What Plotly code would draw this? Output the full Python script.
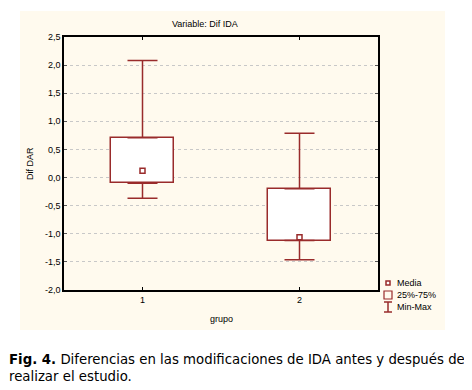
import plotly.graph_objects as go

# ---- data ----
groups = [1, 2]
group_labels = ["1", "2"]
q1 = [-0.10, -1.12]
q3 = [0.71, -0.20]
vmin = [-0.37, -1.46]
vmax = [2.08, 0.79]
mean = [0.12, -1.06]
ytick_vals = [-2.0, -1.5, -1.0, -0.5, 0.0, 0.5, 1.0, 1.5, 2.0, 2.5]
ytick_text = ["-2,0", "-1,5", "-1,0", "-0,5", "0,0", "0,5", "1,0", "1,5", "2,0", "2,5"]
legend_labels = ["Media", "25%-75%", "Min-Max"]

RED = "#992b2b"
OFF = 8  # page body margin
W, H = 472 - OFF, 390 - OFF
PL, PR, PT, PB = 64, 378, 37, 290  # plot area in screen pixels
L, T = PL - OFF, PT - OFF
R, B = W - (PR - OFF), H - (PB - OFF)
PW, PH = W - L - R, H - T - B


def px(x):
    return (x - OFF - L) / PW


def py(y):
    return (H - B - (y - OFF)) / PH


fig = go.Figure()

# boxes 25%-75%
fig.add_trace(go.Bar(
    x=groups, y=[b - a for a, b in zip(q1, q3)], base=q1, width=0.4,
    marker=dict(color="white", line=dict(color=RED, width=1.5)),
    showlegend=False, hoverinfo="skip"))

# upper whiskers
fig.add_trace(go.Scatter(
    x=groups, y=q3, mode="markers", marker=dict(size=1, color="rgba(0,0,0,0)"),
    error_y=dict(type="data", symmetric=False,
                 array=[m - a for m, a in zip(vmax, q3)], arrayminus=[0, 0],
                 color=RED, thickness=1.5, width=15),
    showlegend=False, hoverinfo="skip"))
# lower whiskers
fig.add_trace(go.Scatter(
    x=groups, y=q1, mode="markers", marker=dict(size=1, color="rgba(0,0,0,0)"),
    error_y=dict(type="data", symmetric=False,
                 array=[0, 0], arrayminus=[a - m for a, m in zip(q1, vmin)],
                 color=RED, thickness=1.5, width=15),
    showlegend=False, hoverinfo="skip"))
# means
fig.add_trace(go.Scatter(
    x=groups, y=mean, mode="markers",
    marker=dict(symbol="square", size=5, color="white", line=dict(color=RED, width=1.5)),
    showlegend=False, hoverinfo="skip"))

axis_font = dict(family="Liberation Sans, Arial", size=9, color="black")

fig.update_xaxes(range=[0.5, 2.5], tickvals=groups, ticktext=group_labels,
                 showline=True, linecolor="black", linewidth=1.5, mirror="allticks",
                 ticks="inside", ticklen=3, tickcolor="black", showgrid=False,
                 zeroline=False, tickfont=axis_font)
fig.update_yaxes(range=[-2.0, 2.5], tickvals=ytick_vals, ticktext=ytick_text,
                 showline=True, linecolor="black", linewidth=1.5, mirror="allticks",
                 ticks="inside", ticklen=3, tickcolor="#555", showgrid=True,
                 gridcolor="#c8c8c8", griddash="dot", gridwidth=1,
                 zeroline=False, tickfont=axis_font)

shapes = [
    # cream panel
    dict(type="rect", xref="paper", yref="paper", x0=px(20), x1=px(445), y0=py(330), y1=py(11),
         fillcolor="#fffaee", line=dict(width=0), layer="below"),
    # legend icons
    dict(type="rect", xref="paper", yref="paper", x0=px(386), x1=px(390), y0=py(285), y1=py(281),
         fillcolor="white", line=dict(color=RED, width=1.5)),
    dict(type="rect", xref="paper", yref="paper", x0=px(384), x1=px(392), y0=py(299), y1=py(291),
         fillcolor="rgba(0,0,0,0)", line=dict(color=RED, width=1.2)),
    dict(type="line", xref="paper", yref="paper", x0=px(388), x1=px(388), y0=py(312), y1=py(302),
         line=dict(color=RED, width=1.5)),
    dict(type="line", xref="paper", yref="paper", x0=px(384), x1=px(392), y0=py(302), y1=py(302),
         line=dict(color=RED, width=1.5)),
    dict(type="line", xref="paper", yref="paper", x0=px(384), x1=px(392), y0=py(312), y1=py(312),
         line=dict(color=RED, width=1.5)),
]

small = dict(family="Liberation Sans, Arial", size=9, color="black")
annotations = [
    dict(text="Variable: Dif IDA", x=px(204.5), y=py(23.5), xref="paper", yref="paper",
         showarrow=False, font=small, xanchor="center", yanchor="middle"),
    dict(text="Dif DAR", x=px(30), y=py(164), xref="paper", yref="paper", textangle=-90,
         showarrow=False, font=small, xanchor="center", yanchor="middle"),
    dict(text="grupo", x=px(221), y=py(319), xref="paper", yref="paper",
         showarrow=False, font=small, xanchor="center", yanchor="middle"),
]
for lbl, yy in zip(legend_labels, [283, 295, 307]):
    annotations.append(dict(text=lbl, x=px(395), y=py(yy), xref="paper", yref="paper",
                            showarrow=False, font=small, xanchor="left", yanchor="middle"))

cap = dict(family="DejaVu Sans, Verdana", size=13.3, color="black")
annotations.append(dict(
    text="<b>Fig. 4.</b> Diferencias en las modificaciones de IDA antes y después de<br>realizar el estudio.",
    x=px(7), y=py(368), xref="paper", yref="paper", showarrow=False, align="left",
    font=cap, xanchor="left", yanchor="middle"))

fig.update_layout(
    width=W, height=H, margin=dict(l=L, r=R, t=T, b=B, autoexpand=False),
    paper_bgcolor="white", plot_bgcolor="white",
    shapes=shapes, annotations=annotations, showlegend=False, bargap=0,
)

fig.write_html("out.html")
